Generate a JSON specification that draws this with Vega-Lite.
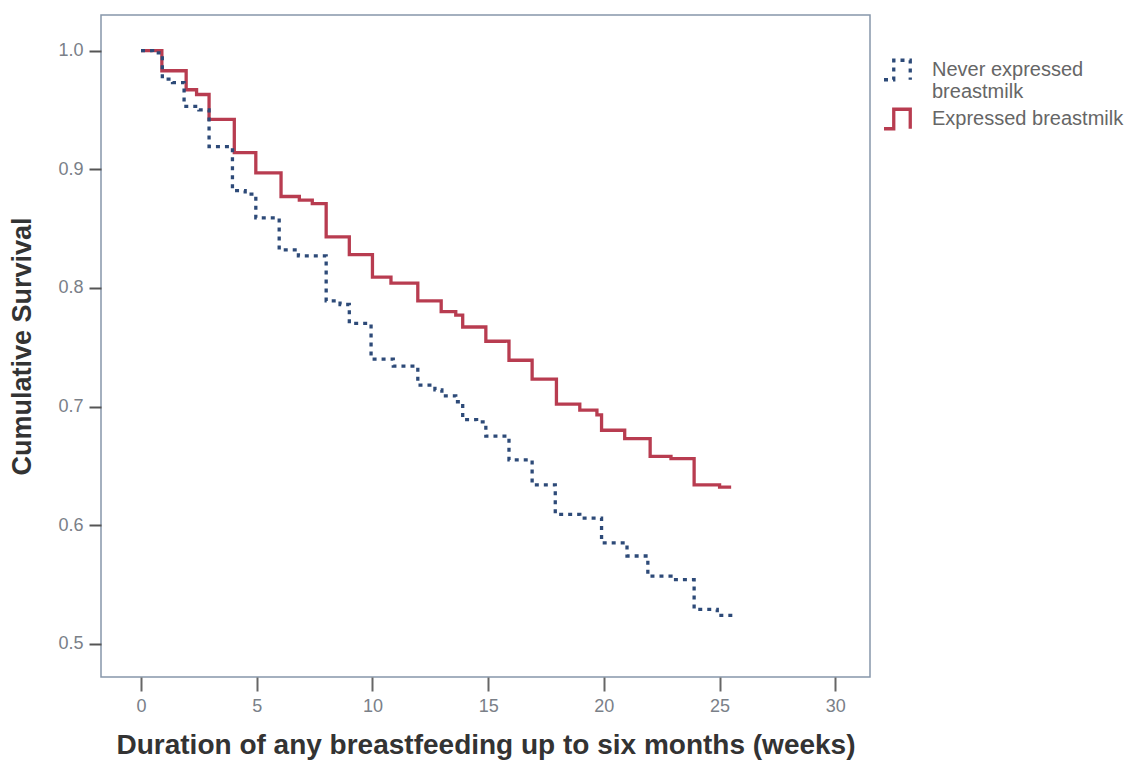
{
  "$schema": "https://vega.github.io/schema/vega-lite/v6.json",
  "width": 769,
  "height": 662,
  "autosize": {"type": "none"},
  "padding": {"left": 101, "top": 15, "right": 255, "bottom": 86},
  "background": "white",
  "config": {
    "font": "Liberation Sans",
    "view": {"stroke": "#8797ab", "strokeWidth": 1.5}
  },
  "data": {
    "values": [
      {"week": 0, "survival": 1.0, "group": "Expressed breastmilk"},
      {"week": 0.9, "survival": 0.983, "group": "Expressed breastmilk"},
      {"week": 1.95, "survival": 0.967, "group": "Expressed breastmilk"},
      {"week": 2.4, "survival": 0.963, "group": "Expressed breastmilk"},
      {"week": 2.94, "survival": 0.942, "group": "Expressed breastmilk"},
      {"week": 4.03, "survival": 0.914, "group": "Expressed breastmilk"},
      {"week": 4.96, "survival": 0.897, "group": "Expressed breastmilk"},
      {"week": 6.05, "survival": 0.877, "group": "Expressed breastmilk"},
      {"week": 6.84, "survival": 0.874, "group": "Expressed breastmilk"},
      {"week": 7.4, "survival": 0.871, "group": "Expressed breastmilk"},
      {"week": 8.0, "survival": 0.843, "group": "Expressed breastmilk"},
      {"week": 9.0, "survival": 0.828, "group": "Expressed breastmilk"},
      {"week": 10.0, "survival": 0.809, "group": "Expressed breastmilk"},
      {"week": 10.8, "survival": 0.804, "group": "Expressed breastmilk"},
      {"week": 11.96, "survival": 0.789, "group": "Expressed breastmilk"},
      {"week": 12.97, "survival": 0.78, "group": "Expressed breastmilk"},
      {"week": 13.6, "survival": 0.777, "group": "Expressed breastmilk"},
      {"week": 13.9, "survival": 0.767, "group": "Expressed breastmilk"},
      {"week": 14.9, "survival": 0.755, "group": "Expressed breastmilk"},
      {"week": 15.9, "survival": 0.739, "group": "Expressed breastmilk"},
      {"week": 16.9, "survival": 0.723, "group": "Expressed breastmilk"},
      {"week": 17.95, "survival": 0.702, "group": "Expressed breastmilk"},
      {"week": 18.96, "survival": 0.697, "group": "Expressed breastmilk"},
      {"week": 19.7, "survival": 0.693, "group": "Expressed breastmilk"},
      {"week": 19.9, "survival": 0.68, "group": "Expressed breastmilk"},
      {"week": 20.9, "survival": 0.673, "group": "Expressed breastmilk"},
      {"week": 22.0, "survival": 0.658, "group": "Expressed breastmilk"},
      {"week": 22.9, "survival": 0.656, "group": "Expressed breastmilk"},
      {"week": 23.9, "survival": 0.634, "group": "Expressed breastmilk"},
      {"week": 25.0, "survival": 0.632, "group": "Expressed breastmilk"},
      {"week": 25.5, "survival": 0.632, "group": "Expressed breastmilk"},
      {"week": 0, "survival": 1.0, "group": "Never expressed breastmilk"},
      {"week": 0.5, "survival": 0.998, "group": "Never expressed breastmilk"},
      {"week": 0.92, "survival": 0.976, "group": "Never expressed breastmilk"},
      {"week": 1.36, "survival": 0.973, "group": "Never expressed breastmilk"},
      {"week": 1.86, "survival": 0.953, "group": "Never expressed breastmilk"},
      {"week": 2.5, "survival": 0.95, "group": "Never expressed breastmilk"},
      {"week": 2.94, "survival": 0.919, "group": "Never expressed breastmilk"},
      {"week": 3.95, "survival": 0.882, "group": "Never expressed breastmilk"},
      {"week": 4.5, "survival": 0.879, "group": "Never expressed breastmilk"},
      {"week": 4.96, "survival": 0.859, "group": "Never expressed breastmilk"},
      {"week": 5.97, "survival": 0.832, "group": "Never expressed breastmilk"},
      {"week": 6.8, "survival": 0.827, "group": "Never expressed breastmilk"},
      {"week": 8.0, "survival": 0.789, "group": "Never expressed breastmilk"},
      {"week": 8.6, "survival": 0.786, "group": "Never expressed breastmilk"},
      {"week": 9.0, "survival": 0.77, "group": "Never expressed breastmilk"},
      {"week": 9.94, "survival": 0.74, "group": "Never expressed breastmilk"},
      {"week": 10.9, "survival": 0.734, "group": "Never expressed breastmilk"},
      {"week": 11.96, "survival": 0.718, "group": "Never expressed breastmilk"},
      {"week": 12.7, "survival": 0.714, "group": "Never expressed breastmilk"},
      {"week": 13.0, "survival": 0.709, "group": "Never expressed breastmilk"},
      {"week": 13.6, "survival": 0.704, "group": "Never expressed breastmilk"},
      {"week": 13.9, "survival": 0.689, "group": "Never expressed breastmilk"},
      {"week": 14.5, "survival": 0.687, "group": "Never expressed breastmilk"},
      {"week": 14.9, "survival": 0.675, "group": "Never expressed breastmilk"},
      {"week": 15.9, "survival": 0.655, "group": "Never expressed breastmilk"},
      {"week": 16.9, "survival": 0.634, "group": "Never expressed breastmilk"},
      {"week": 17.9, "survival": 0.609, "group": "Never expressed breastmilk"},
      {"week": 18.96, "survival": 0.606, "group": "Never expressed breastmilk"},
      {"week": 19.9, "survival": 0.585, "group": "Never expressed breastmilk"},
      {"week": 21.0, "survival": 0.574, "group": "Never expressed breastmilk"},
      {"week": 21.9, "survival": 0.557, "group": "Never expressed breastmilk"},
      {"week": 22.9, "survival": 0.554, "group": "Never expressed breastmilk"},
      {"week": 23.9, "survival": 0.529, "group": "Never expressed breastmilk"},
      {"week": 24.9, "survival": 0.524, "group": "Never expressed breastmilk"},
      {"week": 25.6, "survival": 0.524, "group": "Never expressed breastmilk"}
    ]
  },
  "mark": {"type": "line", "interpolate": "step-after", "strokeWidth": 3.3, "clip": true},
  "encoding": {
    "x": {
      "field": "week",
      "type": "quantitative",
      "scale": {"domain": [-1.73, 31.5], "nice": false, "zero": false},
      "axis": {
        "values": [0, 5, 10, 15, 20, 25, 30],
        "title": "Duration of any breastfeeding up to six months (weeks)",
        "titleFontSize": 28,
        "titleFontWeight": "bold",
        "titleColor": "#333333",
        "titlePadding": 16,
        "labelFontSize": 18,
        "labelColor": "#7a8088",
        "labelPadding": 6,
        "domain": false,
        "grid": false,
        "ticks": true,
        "tickSize": 14,
        "tickWidth": 2,
        "tickColor": "#666666"
      }
    },
    "y": {
      "field": "survival",
      "type": "quantitative",
      "scale": {"domain": [0.472, 1.03], "nice": false, "zero": false},
      "axis": {
        "values": [0.5, 0.6, 0.7, 0.8, 0.9, 1.0],
        "format": ".1f",
        "title": "Cumulative Survival",
        "titleFontSize": 27,
        "titleFontWeight": "bold",
        "titleColor": "#333333",
        "titlePadding": 21,
        "labelFontSize": 18,
        "labelColor": "#7a8088",
        "labelPadding": 6,
        "domain": false,
        "grid": false,
        "tickSize": 12,
        "tickWidth": 2,
        "tickColor": "#555555"
      }
    },
    "color": {
      "field": "group",
      "type": "nominal",
      "scale": {
        "domain": ["Never expressed breastmilk", "Expressed breastmilk"],
        "range": ["#2d4a78", "#b83c50"]
      },
      "legend": {
        "title": null,
        "orient": "none",
        "legendX": 781,
        "legendY": 38,
        "symbolType": "M-1,0.65H-0.35V-0.65H0.75V0.65",
        "symbolSize": 900,
        "symbolStrokeWidth": 3.3,
        "symbolFillColor": "transparent",
        "labelFontSize": 20,
        "labelColor": "#666666",
        "labelOffset": 16,
        "labelLimit": 400,
        "labelExpr": "datum.label == 'Never expressed breastmilk' ? ['Never expressed', 'breastmilk'] : datum.label",
        "rowPadding": -3
      }
    },
    "strokeDash": {
      "field": "group",
      "type": "nominal",
      "scale": {
        "domain": ["Never expressed breastmilk", "Expressed breastmilk"],
        "range": [[4, 5], [1, 0]]
      },
      "legend": null
    }
  }
}
